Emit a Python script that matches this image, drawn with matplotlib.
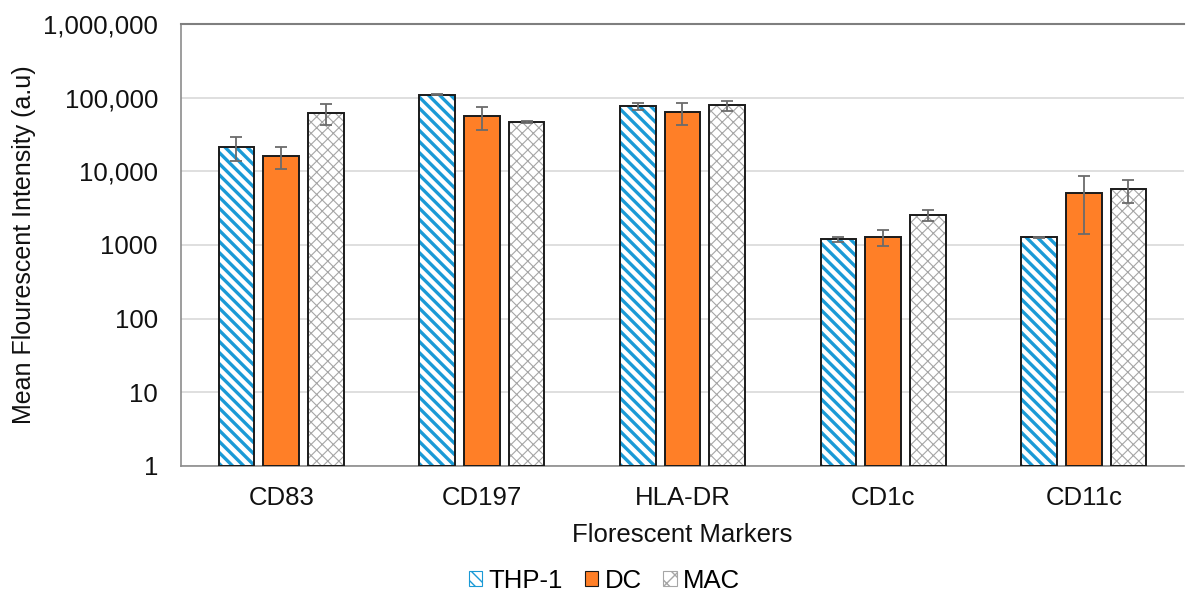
import numpy as np
import matplotlib
matplotlib.use("Agg")
import matplotlib.pyplot as plt
from matplotlib.patches import Patch
from matplotlib.ticker import FixedLocator, NullLocator

plt.rcParams['font.family'] = ['Liberation Sans', 'DejaVu Sans']

markers = ["CD83", "CD197", "HLA-DR", "CD1c", "CD11c"]
series = ["THP-1", "DC", "MAC"]

thp1 = [21300, 110000, 76700, 1200, 1270]
thp1_err = [7500, 2000, 9000, 100, 30]
dc = [15900, 55600, 64200, 1280, 5020]
dc_err = [5200, 19000, 21000, 300, 3600]
mac = [62200, 46500, 78300, 2570, 5690]
mac_err = [19000, 1000, 12000, 450, 2000]

ytick_vals = [1, 10, 100, 1000, 10000, 100000, 1000000]
ytick_labels = ["1", "10", "100", "1000", "10,000", "100,000", "1,000,000"]

blue = "#1a9ad6"
orange = "#ff7f27"
gray_hatch = "#a6a6a6"
err_color = "#6b6b6b"
text_color = "#111111"
fs = 18.5

fig = plt.figure(figsize=(11.9, 5.94), dpi=100)
ax = fig.add_axes([0.152, 0.2155, 0.843, 0.7441])

x = np.arange(len(markers))
width = 0.178
step = 0.223

styles = [
    dict(face="white", hatch="\\\\\\", hcol=blue, hlw=2.4),
    dict(face=orange, hatch=None, hcol=None, hlw=1.0),
    dict(face="white", hatch="xxx", hcol=gray_hatch, hlw=0.8),
]
values = [thp1, dc, mac]
errors = [thp1_err, dc_err, mac_err]

for i, (vals, errs, st) in enumerate(zip(values, errors, styles)):
    pos = x + (i - 1) * step
    if st["hatch"]:
        with plt.rc_context({"hatch.linewidth": st["hlw"]}):
            bars = ax.bar(pos, vals, width, bottom=1, facecolor=st["face"],
                          edgecolor=st["hcol"], hatch=st["hatch"], linewidth=0,
                          zorder=2)
            for b in bars:
                try:
                    b.set_hatch_linewidth(st["hlw"])
                except AttributeError:
                    pass
        ax.bar(pos, vals, width, bottom=1, facecolor="none",
               edgecolor="#1a1a1a", linewidth=1.4, zorder=3)
    else:
        ax.bar(pos, vals, width, bottom=1, facecolor=st["face"],
               edgecolor="#1a1a1a", linewidth=1.4, zorder=3)
    tops = np.array(vals) + 1
    ax.errorbar(pos, tops, yerr=errs, fmt="none", ecolor=err_color,
                elinewidth=1.3, capsize=4.5, capthick=1.3, zorder=4)

ax.set_yscale("log")
ax.set_ylim(1, 1000000)
ax.set_xlim(-0.5, len(markers) - 0.5)
ax.yaxis.set_major_locator(FixedLocator(ytick_vals))
ax.yaxis.set_minor_locator(NullLocator())
ax.set_yticklabels(ytick_labels)
ax.set_xticks(x)
ax.set_xticklabels(markers)
ax.tick_params(axis="both", labelsize=fs, colors=text_color, length=0)
ax.tick_params(axis="y", pad=16.5)
ax.tick_params(axis="x", pad=14.5)

ax.grid(axis="y", color="#d9d9d9", linewidth=1.2, zorder=0)
ax.set_axisbelow(True)
ax.spines["right"].set_visible(False)
ax.spines["top"].set_color("#7f7f7f")
ax.spines["top"].set_linewidth(1.5)
ax.spines["left"].set_color("#8c8c8c")
ax.spines["bottom"].set_color("#8c8c8c")
ax.spines["left"].set_linewidth(1.2)
ax.spines["bottom"].set_linewidth(1.2)

ax.set_ylabel("Mean Flourescent Intensity (a.u)", fontsize=18, color=text_color, labelpad=5)
ax.set_xlabel("Florescent Markers", fontsize=fs, color=text_color, labelpad=9)

handles = []
with plt.rc_context({"hatch.linewidth": 1.6}):
    handles.append(Patch(facecolor="white", edgecolor=blue, hatch="\\\\\\", linewidth=0.8, label="THP-1"))
handles.append(Patch(facecolor=orange, edgecolor="#1a1a1a", linewidth=0.8, label="DC"))
with plt.rc_context({"hatch.linewidth": 0.6}):
    handles.append(Patch(facecolor="white", edgecolor=gray_hatch, hatch="xx", linewidth=0.8, label="MAC"))

fig.legend(handles=handles, loc="center", bbox_to_anchor=(0.508, 0.022), ncol=3,
           frameon=False, fontsize=fs, handlelength=0.52, handleheight=0.52,
           handletextpad=0.25, columnspacing=0.85)

fig.savefig("out.png", dpi=100)
